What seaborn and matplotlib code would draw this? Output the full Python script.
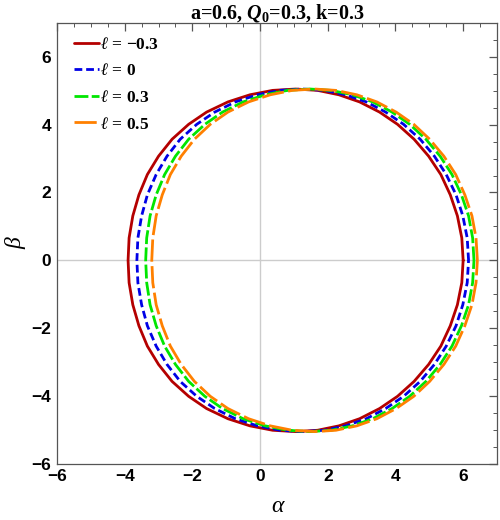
import numpy as np
import pandas as pd
import matplotlib
matplotlib.use("Agg")
import matplotlib.pyplot as plt
import seaborn as sns

# upper half of each shadow (right edge -> top -> left edge)
beta_up = [0.0, 0.66, 1.31, 1.93, 2.53, 3.07, 3.57, 4.01, 4.37, 4.67, 4.88, 5.01, 5.05,
           5.01, 4.88, 4.67, 4.37, 4.01, 3.57, 3.07, 2.53, 1.93, 1.31, 0.66, 0.0]
alpha_m03 = [6.00, 5.96, 5.83, 5.62, 5.34, 4.98, 4.55, 4.06, 3.53, 2.94, 2.33, 1.70, 1.05,
             0.37, -0.30, -0.95, -1.58, -2.11, -2.60, -3.00, -3.33, -3.58, -3.76, -3.87, -3.90]
alpha_0 = [6.16, 6.12, 5.99, 5.79, 5.50, 5.15, 4.73, 4.24, 3.71, 3.14, 2.53, 1.90, 1.26,
           0.59, -0.08, -0.73, -1.34, -1.87, -2.36, -2.75, -3.07, -3.33, -3.50, -3.61, -3.64]
alpha_03 = [6.32, 6.28, 6.16, 5.95, 5.67, 5.32, 4.90, 4.42, 3.90, 3.33, 2.73, 2.10, 1.47,
            0.81, 0.15, -0.50, -1.11, -1.63, -2.11, -2.50, -2.82, -3.07, -3.25, -3.35, -3.38]
alpha_05 = [6.42, 6.38, 6.26, 6.05, 5.78, 5.43, 5.01, 4.54, 4.02, 3.45, 2.86, 2.24, 1.61,
            0.95, 0.30, -0.34, -0.95, -1.47, -1.94, -2.33, -2.65, -2.89, -3.07, -3.17, -3.20]

labels = [r"$\ell$ = −0.3", r"$\ell$ = 0", r"$\ell$ = 0.3", r"$\ell$ = 0.5"]
colores = ["#B40000", "#0000E6", "#00E600", "#FF8000"]
rayas = ["", (2.8, 1.4), (5.0, 1.2), (8.0, 1.6)]

# armo tabla larga; la mitad de abajo es el espejo de la de arriba
filas = []
for lab, a in zip(labels, [alpha_m03, alpha_0, alpha_03, alpha_05]):
    aa = a + a[::-1][1:]
    bb = beta_up + [-b for b in beta_up[::-1][1:]]
    for x, y in zip(aa, bb):
        filas.append({"alpha": x, "beta": y, "curva": lab})
df = pd.DataFrame(filas)

sns.set_style("white")
plt.rcParams["mathtext.fontset"] = "custom"
plt.rcParams["mathtext.rm"] = "Liberation Serif:bold"
plt.rcParams["mathtext.it"] = "Liberation Serif:italic:bold"
plt.rcParams["mathtext.bf"] = "Liberation Serif:bold"
plt.rcParams["mathtext.fallback"] = "stix"
plt.rcParams["text.color"] = "black"
plt.rcParams["xtick.labelcolor"] = "black"
plt.rcParams["ytick.labelcolor"] = "black"
plt.rcParams["axes.labelcolor"] = "black"

fig, ax = plt.subplots(figsize=(5, 5.2), dpi=100)
fig.subplots_adjust(left=0.114, right=0.994, bottom=0.108, top=0.956)

ax.axhline(0, color="#CCCCCC", lw=1, zorder=0)
ax.axvline(0, color="#CCCCCC", lw=1, zorder=0)

sns.lineplot(data=df, x="alpha", y="beta", hue="curva", style="curva",
             palette=dict(zip(labels, colores)), dashes=dict(zip(labels, rayas)),
             sort=False, estimator=None, lw=2, ax=ax)

ax.set_xlim(-6, 7)
ax.set_ylim(-6, 7)
ax.set_xticks([-6, -4, -2, 0, 2, 4, 6])
ax.set_yticks([-6, -4, -2, 0, 2, 4, 6])
ax.set_xticks(np.arange(-6, 7.01, 0.5), minor=True)
ax.set_yticks(np.arange(-6, 7.01, 0.5), minor=True)
ax.tick_params(which="both", direction="in", top=True, right=True, color="#555555")
ax.tick_params(which="major", length=6, width=0.9, pad=4)
ax.tick_params(which="minor", length=3, width=0.7)
for t in ax.get_xticklabels() + ax.get_yticklabels():
    t.set_fontfamily("Liberation Sans")
    t.set_fontweight("bold")
    t.set_fontsize(12.5)
    t.set_color("black")
for s in ax.spines.values():
    s.set_color("#555555")
    s.set_linewidth(0.9)

ax.set_xlabel("α", fontsize=17, family="Liberation Serif", style="italic", labelpad=8)
ax.set_ylabel("β", fontsize=17, family="Liberation Serif", style="italic", labelpad=4)
ax.set_title(r"a=0.6, $Q_0$=0.3, k=0.3", fontsize=14.5, family="Liberation Serif",
             fontweight="bold", pad=3, color="black")

leg = ax.legend(loc="upper left", bbox_to_anchor=(0.0, 1.008), frameon=False,
                handlelength=1.4, handletextpad=0.1, labelspacing=0.6, borderaxespad=0.6,
                prop={"family": "Liberation Serif", "weight": "bold", "size": 12.5})

plt.savefig("out.png", dpi=100)
